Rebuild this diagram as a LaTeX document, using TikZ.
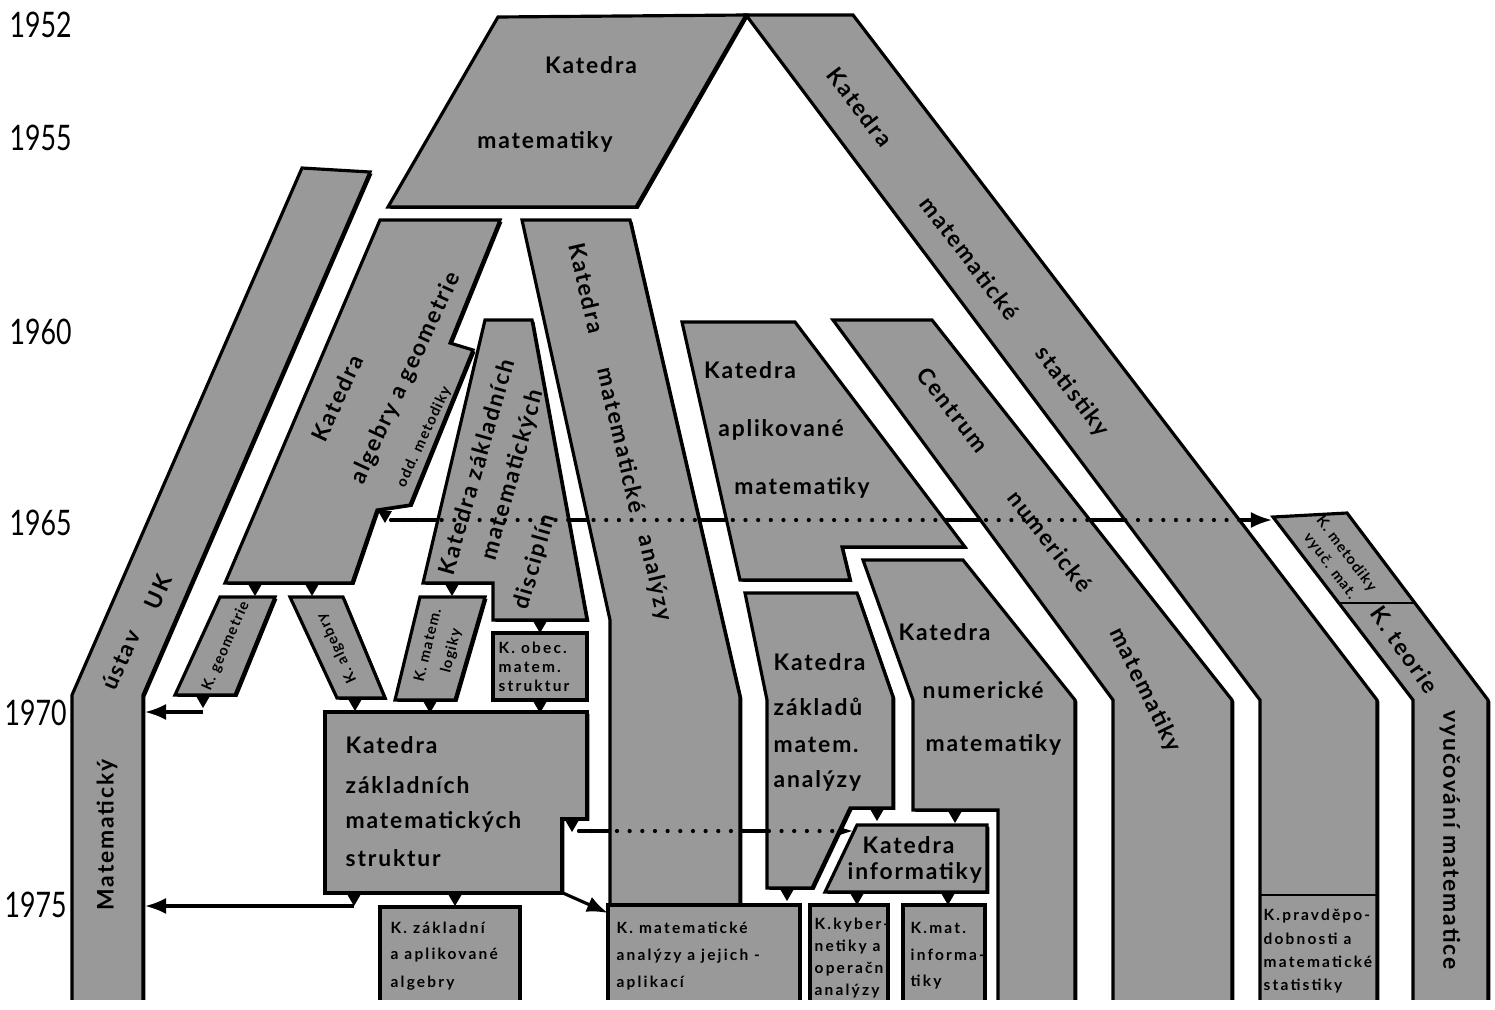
\documentclass[tikz,border=0pt]{standalone}
\usepackage{fontspec}
\setmainfont{Lato}
\newfontfamily\lab{Lato}[LetterSpace=8]
\newfontfamily\labs{Lato}[LetterSpace=14]
\newfontfamily\yrf{Lato}[FakeStretch=0.76]
\usetikzlibrary{arrows.meta,shadows}
\definecolor{ht}{gray}{0.6}
\newcommand\trimk[1]{\fill (#1) ++(-7,0) -- ++(14,0) -- ++(-7,12) -- cycle;}
\begin{document}
\begin{tikzpicture}[x=0.01cm,y=-0.01cm,
  shp/.style={fill=ht,draw=black,line width=0.9pt,line join=miter,
    drop shadow={shadow xshift=0.7pt,shadow yshift=-0.5pt,opacity=1,fill=black}},
  sep/.style={draw=black,line width=0.6pt},
  conn/.style={line width=0.9pt,-{Latex[length=6pt,width=4.6pt]}},
  dotl/.style={line width=1.2pt,line cap=round,dash pattern=on 0pt off 3.6pt},
  lbl/.style={font=\lab\bfseries\fontsize{6.5}{7}\selectfont,inner sep=0pt},
  lblw/.style={lbl,anchor=west},
  sml/.style={font=\labs\bfseries\fontsize{4.4}{5.2}\selectfont,inner sep=0pt},
  smlw/.style={sml,anchor=west},
  tiny/.style={font=\lab\bfseries\fontsize{4.2}{4.8}\selectfont,inner sep=0pt},
  yr/.style={font=\yrf\fontsize{10}{11}\selectfont,inner sep=0pt,anchor=west}]
\useasboundingbox (0,0) rectangle (1495,1009);
% years
\node[yr] (y52) at (9,25) {1952};
\node[yr] (y55) at (9,138) {1955};
\node[yr] (y60) at (9,332) {1960};
\node[yr] (y65) at (9,523) {1965};
\node[yr] (y70) at (4,713) {1970};
\node[yr] (y75) at (4,905) {1975};
\begin{scope}
\clip (0,0) rectangle (1495,999);
% connector coordinates
\coordinate (a65) at (391,520);
\coordinate (b65) at (1272,520);
\coordinate (a73) at (579,831);
\coordinate (b73) at (853,831);
\coordinate (a70) at (203,712);
\coordinate (b70) at (145,712);
\coordinate (a75) at (354,906);
\coordinate (b75) at (145,906);
\coordinate (ad) at (563,893);
\coordinate (bd) at (608,913);
% lines under shapes
\draw[conn] (a65) -- (b65);
\draw[conn] (a73) -- (b73);
% shapes
\path[shp] (498,17) -- (746,15) -- (636,207) -- (388,207) -- cycle;
\path[shp] (746,15) -- (853,15) -- (1377,700) -- (1377,1010) -- (1260,1010) -- (1260,700) -- cycle;
\draw[sep] (1260,895) -- (1377,895);
\path[shp] (302,168) -- (370,172) -- (143,695) -- (143,1010) -- (72,1010) -- (72,695) -- cycle;
\path[shp] (380,220) -- (500,220) -- (450,343) -- (473,350) -- (410,505) -- (377,510) -- (352,583) -- (225,583) -- cycle;
\path[shp] (485,320) -- (532,320) -- (587,620) -- (493,620) -- (493,583) -- (423,583) -- cycle;
\path[shp] (522,220) -- (630,220) -- (740,697) -- (740,905) -- (610,905) -- (610,620) -- cycle;
\path[shp] (682,322) -- (795,322) -- (965,547) -- (842,547) -- (850,580) -- (740,580) -- cycle;
\path[shp] (833,320) -- (932,320) -- (1232,700) -- (1232,1010) -- (1113,1010) -- (1113,700) -- cycle;
\path[shp] (745,593) -- (857,593) -- (893,697) -- (893,808) -- (850,808) -- (812,888) -- (767,888) -- (767,700) -- cycle;
\path[shp] (863,560) -- (963,560) -- (1075,700) -- (1075,1010) -- (998,1010) -- (998,810) -- (913,810) -- (913,700) -- cycle;
\path[shp] (857,825) -- (987,825) -- (987,892) -- (825,892) -- cycle;
\path[shp] (325,712) -- (587,712) -- (587,819) -- (562,819) -- (562,893) -- (325,893) -- cycle;
\path[shp] (380,907) rectangle (520,1010);
\path[shp] (608,905) rectangle (800,1010);
\path[shp] (810,905) rectangle (888,1010);
\path[shp] (903,905) rectangle (985,1010);
\path[shp] (220,597) -- (275,597) -- (235,695) -- (175,695) -- cycle;
\path[shp] (290,597) -- (343,597) -- (385,698) -- (337,698) -- cycle;
\path[shp] (420,597) -- (485,597) -- (455,700) -- (395,700) -- cycle;
\path[shp] (493,633) rectangle (587,700);
\path[shp] (1273,517) -- (1347,513) -- (1488,700) -- (1488,1010) -- (1413,1010) -- (1413,700) -- cycle;
\draw[sep] (1339,603) -- (1415,603);
% dotted overlays
\draw[dotl] (a65) -- (1262,520);
\draw[dotl] (a73) -- (845,831);
% other connectors
\draw[conn] (a70) -- (b70);
\draw[conn] (a75) -- (b75);
\draw[conn] (ad) -- (bd);
% triangle markers
\trimk{255,584} \trimk{312,584} \trimk{452,584} \trimk{540,621}
\trimk{203,696} \trimk{355,699} \trimk{430,701} \trimk{540,701}
\trimk{385,511} \trimk{572,820} \trimk{354,894} \trimk{455,894}
\trimk{787,889} \trimk{877,809} \trimk{955,811} \trimk{857,893} \trimk{948,893}
% texts
\node[lbl] (m1) at (591,65) {Katedra};
\node[lbl] (m2) at (545,142) {matematiky};
\node[lbl,rotate=-52.5] (s1) at (860,107) {Katedra};
\node[lbl,rotate=-52.5] (s2) at (970,258) {matematické};
\node[lbl,rotate=-52.5] (s3) at (1072,392) {statistiky};
\node[lbl,rotate=90] (u1) at (107,835) {Matematický};
\node[lbl,rotate=66] (u2) at (121,660) {ústav};
\node[lbl,rotate=66] (u3) at (158,592) {UK};
\node[lbl,rotate=65] (g1) at (337,398) {Katedra};
\node[lbl,rotate=65] (g2) at (406,378) {algebry a geometrie};
\node[tiny,rotate=65] (g3) at (424,437) {odd. metodiky};
\node[lbl,rotate=74] (d1) at (476,467) {Katedra základních};
\node[lbl,rotate=74] (d2) at (513,475) {matematických};
\node[lbl,rotate=74] (d3) at (535,562) {disciplín};
\node[lbl,rotate=-77] (n1) at (587,288) {Katedra};
\node[lbl,rotate=-77] (n2) at (622,440) {matematické};
\node[lbl,rotate=-77] (n3) at (655,578) {analýzy};
\node[lbl] (p1) at (750,370) {Katedra};
\node[lbl] (p2) at (781,430) {aplikované};
\node[lbl] (p3) at (802,488) {matematiky};
\node[lbl,rotate=-52] (c1) at (953,410) {Centrum};
\node[lbl,rotate=-52] (c2) at (1050,541) {numerické};
\node[lbl,rotate=-64] (c3) at (1145,690) {matematiky};
\node[lblw] (z1) at (773,662) {Katedra};
\node[lblw] (z2) at (773,707) {základů};
\node[lblw] (z3) at (773,745) {matem.};
\node[lblw] (z4) at (773,781) {analýzy};
\node[lblw] (r1) at (898,632) {Katedra};
\node[lblw] (r2) at (922,690) {numerické};
\node[lblw] (r3) at (925,745) {matematiky};
\node[lblw] (i1) at (862,845) {Katedra};
\node[lblw] (i2) at (847,873) {informatiky};
\node[lblw] (t1) at (345,745) {Katedra};
\node[lblw] (t2) at (345,785) {základních};
\node[lblw] (t3) at (345,822) {matematických};
\node[lblw] (t4) at (345,858) {struktur};
\node[smlw] (k1) at (390,928) {K. základní};
\node[smlw] (k2) at (390,955) {a aplikované};
\node[smlw] (k3) at (390,983) {algebry};
\node[smlw] (a1) at (616,928) {K. matematické};
\node[smlw] (a2) at (616,956) {analýzy a jejich -};
\node[smlw] (a3) at (616,983) {aplikací};
\node[smlw] (b1) at (814,925) {K.kyber-};
\node[smlw] (b2) at (814,947) {netiky a};
\node[smlw] (b3) at (814,969) {operační};
\node[smlw] (b4) at (814,991) {analýzy};
\node[smlw] (e1) at (910,928) {K.mat.};
\node[smlw] (e2) at (910,955) {informa-};
\node[smlw] (e3) at (910,982) {tiky};
\node[smlw] (q1) at (1263,916) {K.pravděpo-};
\node[smlw] (q2) at (1263,939) {dobnosti a};
\node[smlw] (q3) at (1263,962) {matematické};
\node[smlw] (q4) at (1263,986) {statistiky};
\node[tiny,rotate=66] (kg) at (226,646) {K. geometrie};
\node[tiny,rotate=115] (ka) at (337,648) {K. algebry};
\node[tiny,rotate=76,align=center] (kl) at (440,648) {K. matem.\\[2pt]logiky};
\node[smlw] (o1) at (498,648) {K. obec.};
\node[smlw] (o2) at (498,667) {matem.};
\node[smlw] (o3) at (498,686) {struktur};
\node[tiny,rotate=-53,align=center] (km) at (1338,560) {K. metodiky\\[1pt]vyuč. mat.};
\node[lbl,rotate=-55] (v1) at (1405,650) {K. teorie};
\node[lbl,rotate=-90] (v2) at (1450,840) {vyučování matematice};
\end{scope}
\end{tikzpicture}
\end{document}
